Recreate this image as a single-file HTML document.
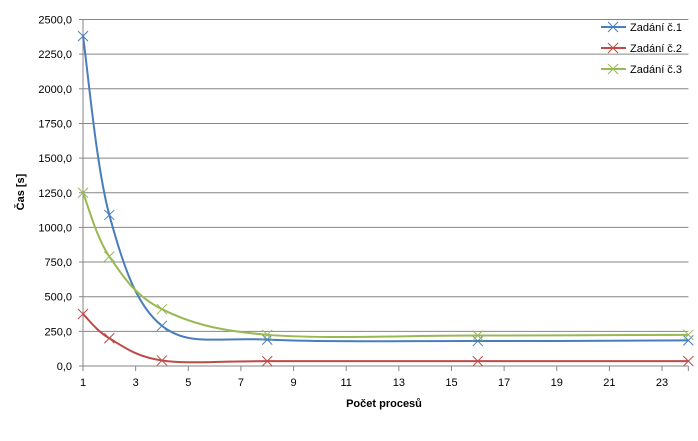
<!DOCTYPE html>
<html><head><meta charset="utf-8"><style>
body{margin:0;background:#fff;font-family:"Liberation Sans","DejaVu Sans",sans-serif}
svg text{font-family:"Liberation Sans","DejaVu Sans",sans-serif;fill:#000}
</style></head><body>
<svg id="chart" width="698" height="436"></svg>
<script>
const xTicks=[1,3,5,7,9,11,13,15,17,19,21,23];
const yTicks=[0,250,500,750,1000,1250,1500,1750,2000,2250,2500];
const procs=[1,2,4,8,16,24];
const zad1=[2380,1090,290,190,180,185];
const zad2=[375,200,40,35,35,35];
const zad3=[1250,790,410,225,220,225];
const seriesNames=["Zadání č.1","Zadání č.2","Zadání č.3"];
const colors=["#4a7ebb","#be4b48","#98b954"];
const svg=document.getElementById('chart');
const NS='http://www.w3.org/2000/svg';
const X=v=>83+(v-1)*26.32;
const Y=v=>366-v*0.1386;
function mk(t,a,p){const e=document.createElementNS(NS,t);for(const k in a)e.setAttribute(k,a[k]);(p||svg).appendChild(e);return e;}
const fmt=v=>v.toFixed(1).replace('.',',');
yTicks.forEach(v=>{
 const g=mk('line',{x1:X(1),x2:X(24),y1:Y(v),y2:Y(v),stroke:'#868686','stroke-width':1});
 
 
 const t=mk('text',{x:72,y:Y(v)+4,'text-anchor':'end','font-size':11});t.textContent=fmt(v);
 
 
 mk('line',{x1:X(1)-4,x2:X(1),y1:Y(v),y2:Y(v),stroke:'#868686'});
});
mk('line',{x1:X(1),x2:X(1),y1:Y(0),y2:Y(2500),stroke:'#868686'});
xTicks.forEach(v=>{
 mk('line',{x1:X(v),x2:X(v),y1:Y(0),y2:Y(0)+5,stroke:'#868686'});
 const t=mk('text',{x:X(v),y:386,'text-anchor':'middle','font-size':11});t.textContent=v;
 
 
});
mk('line',{x1:X(24),x2:X(24),y1:Y(0),y2:Y(0)+5,stroke:'#868686'});
const xt=mk('text',{x:384,y:407,'text-anchor':'middle','font-size':11,'font-weight':'bold'});xt.textContent='Počet procesů';


const yt=mk('text',{x:0,y:0,'text-anchor':'middle','font-size':11,'font-weight':'bold',transform:'translate(24,192) rotate(-90)'});yt.textContent='Čas [s]';


function path(vals){
 const p=procs.map((x,i)=>[X(x),Y(vals[i])]);
 let d='M'+p[0][0]+','+p[0][1];
 for(let i=0;i<p.length-1;i++){
  const p0=p[Math.max(i-1,0)],p1=p[i],p2=p[i+1],p3=p[Math.min(i+2,p.length-1)];
  const c1=[p1[0]+(p2[0]-p0[0])/6,p1[1]+(p2[1]-p0[1])/6];
  const c2=[p2[0]-(p3[0]-p1[0])/6,p2[1]-(p3[1]-p1[1])/6];
  d+=` C${c1[0]},${c1[1]} ${c2[0]},${c2[1]} ${p2[0]},${p2[1]}`;
 }
 return d;
}
[zad1,zad2,zad3].forEach((vals,si)=>{
 const c=colors[si];
 const l=mk('path',{d:path(vals),fill:'none',stroke:c,'stroke-width':2});
 
 
 procs.forEach((x,i)=>{
  const cx=X(x),cy=Y(vals[i]);
  const m=mk('path',{d:`M${cx-5},${cy-5}L${cx+5},${cy+5}M${cx-5},${cy+5}L${cx+5},${cy-5}`,stroke:c,'stroke-width':1,fill:'none'});
  
  
 });
 const ly=27+si*21;
 const g=mk('g',{});
 
 
 mk('line',{x1:601,x2:626,y1:ly,y2:ly,stroke:c,'stroke-width':2},g);
 mk('path',{d:`M${608},${ly-5}L${618},${ly+5}M${608},${ly+5}L${618},${ly-5}`,stroke:c,fill:'none'},g);
 const t=mk('text',{x:630,y:ly+4,'font-size':11},g);t.textContent=seriesNames[si];
});
</script>
</body></html>
